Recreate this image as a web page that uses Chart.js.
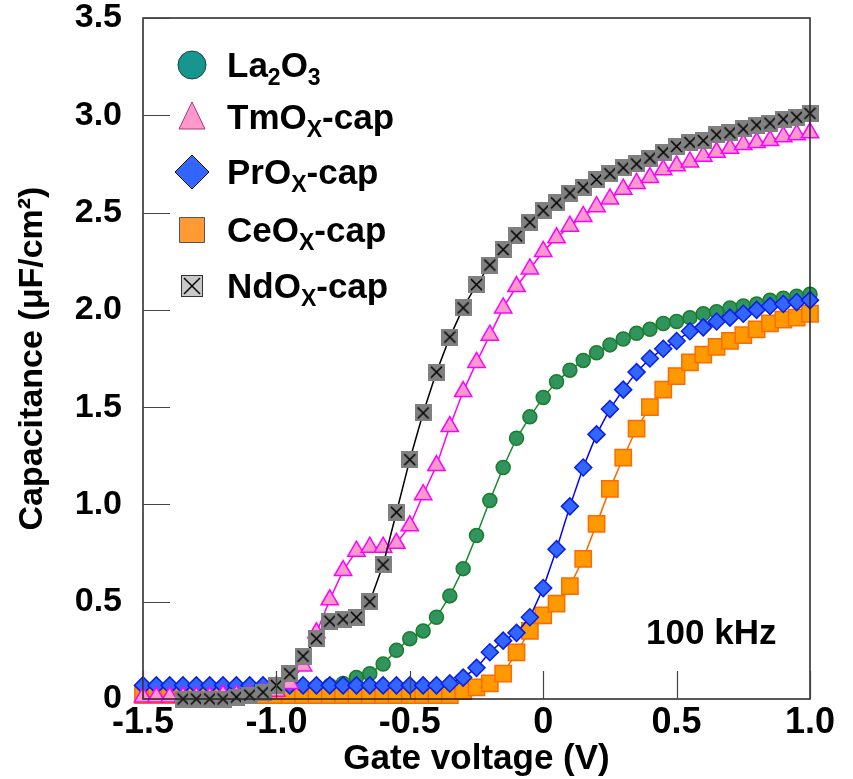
<!DOCTYPE html>
<html>
<head>
<meta charset="utf-8">
<script src="https://cdn.jsdelivr.net/npm/chart.js@4.4.1/dist/chart.umd.min.js"></script>
<style>
  html, body { margin: 0; padding: 0; background: #fff; }
  #wrap { width: 853px; height: 779px; }
</style>
</head>
<body>
<div id="wrap"><canvas id="cv" width="853" height="779"></canvas></div>
<script>
// gate voltage (V), 50 mV steps
const voltage = [-1.50, -1.45, -1.40, -1.35, -1.30, -1.25, -1.20, -1.15, -1.10, -1.05,
  -1.00, -0.95, -0.90, -0.85, -0.80, -0.75, -0.70, -0.65, -0.60, -0.55,
  -0.50, -0.45, -0.40, -0.35, -0.30, -0.25, -0.20, -0.15, -0.10, -0.05,
  0.00, 0.05, 0.10, 0.15, 0.20, 0.25, 0.30, 0.35, 0.40, 0.45,
  0.50, 0.55, 0.60, 0.65, 0.70, 0.75, 0.80, 0.85, 0.90, 0.95, 1.00];

// capacitance (uF/cm2)
const laCap = [0.06, 0.06, 0.06, 0.06, 0.06, 0.06, 0.06, 0.06, 0.06, 0.06,
  0.06, 0.06, 0.06, 0.06, 0.07, 0.08, 0.11, 0.13, 0.18, 0.25,
  0.31, 0.35, 0.42, 0.53, 0.67, 0.84, 1.02, 1.19, 1.34, 1.45,
  1.55, 1.63, 1.69, 1.74, 1.78, 1.82, 1.85, 1.88, 1.90, 1.93,
  1.94, 1.96, 1.98, 1.99, 2.01, 2.02, 2.03, 2.05, 2.06, 2.07, 2.08];
const tmCap = [0.01, 0.01, 0.01, 0.01, 0.01, 0.01, 0.02, 0.02, 0.02, 0.03,
  0.04, 0.08, 0.17, 0.34, 0.51, 0.66, 0.76, 0.78, 0.78, 0.80,
  0.89, 1.05, 1.20, 1.40, 1.58, 1.73, 1.87, 2.01, 2.12, 2.21,
  2.30, 2.37, 2.43, 2.48, 2.53, 2.57, 2.62, 2.65, 2.68, 2.72,
  2.74, 2.76, 2.79, 2.81, 2.83, 2.85, 2.86, 2.87, 2.89, 2.90, 2.91];
const prCap = [0.07, 0.07, 0.07, 0.07, 0.07, 0.07, 0.07, 0.07, 0.07, 0.07,
  0.07, 0.07, 0.07, 0.07, 0.07, 0.07, 0.07, 0.07, 0.07, 0.07,
  0.07, 0.07, 0.07, 0.08, 0.11, 0.16, 0.24, 0.30, 0.34, 0.42,
  0.57, 0.77, 0.99, 1.19, 1.36, 1.49, 1.59, 1.68, 1.75, 1.80,
  1.84, 1.89, 1.91, 1.94, 1.96, 1.98, 2.00, 2.02, 2.03, 2.04, 2.05];
const ceCap = [0.02, 0.02, 0.02, 0.02, 0.02, 0.02, 0.02, 0.02, 0.02, 0.02,
  0.02, 0.02, 0.02, 0.02, 0.02, 0.02, 0.02, 0.02, 0.02, 0.02,
  0.02, 0.02, 0.02, 0.02, 0.04, 0.06, 0.08, 0.13, 0.24, 0.35,
  0.43, 0.49, 0.58, 0.72, 0.90, 1.08, 1.24, 1.39, 1.50, 1.59,
  1.66, 1.73, 1.77, 1.81, 1.84, 1.87, 1.90, 1.93, 1.95, 1.96, 1.98];
const ndCap = [null, null, null, 0.00, 0.00, 0.00, 0.00, 0.01, 0.02, 0.035,
  0.07, 0.13, 0.22, 0.31, 0.40, 0.41, 0.42, 0.50, 0.69, 0.96,
  1.23, 1.47, 1.68, 1.86, 2.01, 2.13, 2.23, 2.31, 2.38, 2.45,
  2.51, 2.55, 2.60, 2.63, 2.67, 2.70, 2.73, 2.75, 2.78, 2.81,
  2.84, 2.86, 2.87, 2.90, 2.91, 2.93, 2.95, 2.96, 2.98, 2.99, 3.01];

// legend names, pieces marked 1 are subscripts
const seriesNames = [
  [['La'], ['2', 1], ['O'], ['3', 1]],
  [['TmO'], ['X', 1], ['-cap']],
  [['PrO'], ['X', 1], ['-cap']],
  [['CeO'], ['X', 1], ['-cap']],
  [['NdO'], ['X', 1], ['-cap']]
];
const xTickLabels = ['-1.5', '-1.0', '-0.5', '0', '0.5', '1.0'];
const yTickLabels = ['0', '0.5', '1.0', '1.5', '2.0', '2.5', '3.0', '3.5'];
const freqNote = '100 kHz';

const FONT = '"Liberation Sans", Arial, Helvetica, sans-serif';

function pts(vals) {
  return voltage.map((v, i) => ({ x: v, y: vals[i] }));
}

// grey square with a cross for the NdOx points
function crossBox(size, fill, border) {
  const c = document.createElement('canvas');
  c.width = size; c.height = size;
  const g = c.getContext('2d');
  g.fillStyle = fill;
  g.fillRect(0, 0, size, size);
  if (border) {
    g.strokeStyle = border; g.lineWidth = 1;
    g.strokeRect(0.5, 0.5, size - 1, size - 1);
  }
  g.strokeStyle = '#000';
  g.lineWidth = 1.5;
  g.beginPath();
  g.moveTo(3, 3); g.lineTo(size - 3, size - 3);
  g.moveTo(size - 3, 3); g.lineTo(3, size - 3);
  g.stroke();
  return c;
}

const ndPoint = crossBox(17, '#808080', null);
const ndLegend = crossBox(22, '#c8c8c8', '#333');

function drawRich(ctx, parts, x, y, size) {
  ctx.textBaseline = 'alphabetic';
  ctx.textAlign = 'left';
  parts.forEach(p => {
    const sub = p[1] === 1;
    ctx.font = 'bold ' + (sub ? Math.round(size * 0.66) : size) + 'px ' + FONT;
    ctx.fillText(p[0], x, sub ? y + 8 : y);
    x += ctx.measureText(p[0]).width;
  });
}

const legendMarks = [
  { shape: 'circle', fill: '#17968f', stroke: '#1f3f3f' },
  { shape: 'triangle', fill: '#ff99cc', stroke: '#b0307e' },
  { shape: 'diamond', fill: '#3366ff', stroke: '#111' },
  { shape: 'square', fill: '#ff9933', stroke: '#555' },
  { shape: 'cross', fill: '#c8c8c8', stroke: '#333' }
];

const extras = {
  id: 'extras',
  afterDatasetsDraw(chart) {
    const { ctx, chartArea: a, scales: { x, y } } = chart;
    ctx.save();
    // frame
    ctx.strokeStyle = '#222';
    ctx.lineWidth = 1.5;
    ctx.strokeRect(a.left, a.top, a.right - a.left, a.bottom - a.top);
    // inward tick marks
    ctx.strokeStyle = '#444';
    ctx.lineWidth = 1.2;
    ctx.beginPath();
    y.ticks.forEach(t => {
      const py = Math.round(y.getPixelForValue(t.value)) + 0.5;
      ctx.moveTo(a.left, py); ctx.lineTo(a.left + 27, py);
    });
    x.ticks.forEach(t => {
      const px = Math.round(x.getPixelForValue(t.value)) + 0.5;
      ctx.moveTo(px, a.bottom); ctx.lineTo(px, a.bottom - 28);
    });
    ctx.stroke();

    // legend
    const lx = a.left + 49;
    const rows = [47, 99, 154, 212, 268];
    legendMarks.forEach((m, i) => {
      const cy = a.top + rows[i];
      ctx.fillStyle = m.fill;
      ctx.strokeStyle = m.stroke;
      ctx.lineWidth = 1;
      ctx.beginPath();
      if (m.shape === 'circle') {
        ctx.arc(lx, cy, 14, 0, Math.PI * 2);
      } else if (m.shape === 'triangle') {
        ctx.moveTo(lx, cy - 15); ctx.lineTo(lx + 13, cy + 12); ctx.lineTo(lx - 13, cy + 12); ctx.closePath();
      } else if (m.shape === 'diamond') {
        ctx.moveTo(lx, cy - 17); ctx.lineTo(lx + 17, cy); ctx.lineTo(lx, cy + 17); ctx.lineTo(lx - 17, cy); ctx.closePath();
      } else if (m.shape === 'square') {
        ctx.rect(lx - 12.5, cy - 12.5, 25, 25);
      }
      if (m.shape === 'cross') {
        ctx.drawImage(ndLegend, lx - 11, cy - 11);
      } else {
        ctx.fill(); ctx.stroke();
      }
      ctx.fillStyle = '#000';
      drawRich(ctx, seriesNames[i], a.left + 84, cy + 12, 35);
    });

    // frequency note
    ctx.font = 'bold 35px ' + FONT;
    ctx.fillStyle = '#000';
    ctx.textAlign = 'center';
    ctx.textBaseline = 'middle';
    ctx.fillText(freqNote, x.getPixelForValue(0.63), y.getPixelForValue(0.33));
    ctx.restore();
  }
};

const common = { showLine: true, borderWidth: 1.5, pointBorderWidth: 1.5, clip: false, tension: 0 };

new Chart(document.getElementById('cv'), {
  type: 'line',
  data: {
    datasets: [
      Object.assign({ data: pts(laCap), order: 5, borderColor: '#1b8a2e', pointStyle: 'circle', pointRadius: 7,
        pointBackgroundColor: '#31945f', pointBorderColor: '#1a7d2a' }, common),
      Object.assign({ data: pts(tmCap), order: 2, borderColor: '#ff00ff', pointStyle: 'triangle', pointRadius: 10,
        pointBackgroundColor: '#ff99cc', pointBorderColor: '#ff00ff' }, common),
      Object.assign({ data: pts(prCap), order: 3, borderColor: '#0000ff', pointStyle: 'rectRot', pointRadius: 8.5,
        pointBackgroundColor: '#3366ff', pointBorderColor: '#0a1ee6' }, common),
      Object.assign({ data: pts(ceCap), order: 4, borderColor: '#ff6600', pointStyle: 'rect', pointRadius: 11.5,
        pointBackgroundColor: '#ff9900', pointBorderColor: '#ff6a00' }, common),
      Object.assign({ data: pts(ndCap), order: 1, borderColor: '#000', pointStyle: ndPoint, pointRadius: 8,
        pointBackgroundColor: '#808080', pointBorderColor: '#000' }, common)
    ]
  },
  options: {
    responsive: false,
    animation: false,
    events: [],
    layout: { padding: { top: 18, right: 43, left: 0, bottom: 0 } },
    plugins: { legend: { display: false }, tooltip: { enabled: false } },
    scales: {
      x: {
        type: 'linear',
        min: -1.5, max: 1.0,
        grid: { display: false, drawTicks: false },
        border: { display: false },
        ticks: {
          stepSize: 0.5,
          padding: 2,
          color: '#000',
          font: { family: FONT, size: 36, weight: 'bold' },
          callback: (v, i) => xTickLabels[i]
        },
        title: {
          display: true,
          text: 'Gate voltage (V)',
          color: '#000',
          font: { family: FONT, size: 35, weight: 'bold', lineHeight: 1.0 },
          padding: { top: 0, bottom: 2 }
        },
        afterFit(s) { s.height = 80; s.paddingLeft = 0; s.paddingRight = 0; }
      },
      y: {
        min: 0, max: 3.5,
        grid: { display: false, drawTicks: false },
        border: { display: false },
        ticks: {
          stepSize: 0.5,
          padding: 21,
          color: '#000',
          font: { family: FONT, size: 34, weight: 'bold' },
          callback: (v, i) => yTickLabels[i]
        },
        title: {
          display: true,
          text: 'Capacitance (μF/cm²)',
          color: '#000',
          font: { family: FONT, size: 34, weight: 'bold', lineHeight: 1.2 },
          padding: { top: 12, bottom: 0 }
        },
        afterFit(s) { s.width = 143; s.paddingTop = 0; s.paddingBottom = 0; }
      }
    }
  },
  plugins: [extras]
});
</script>
</body>
</html>
